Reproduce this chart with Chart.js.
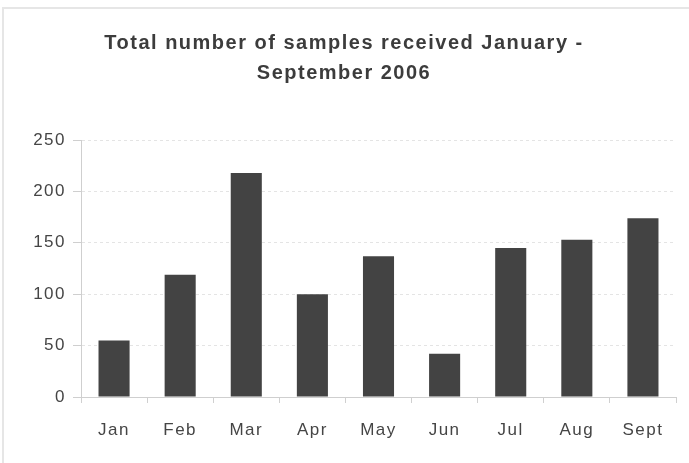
<!DOCTYPE html>
<html>
<head>
<meta charset="utf-8">
<script src="https://cdn.jsdelivr.net/npm/chart.js@4/dist/chart.umd.min.js"></script>
<style>
  html, body { margin: 0; padding: 0; background: #fff; overflow: hidden; }
  #wrap { position: relative; width: 689px; height: 463px; }
  #frame { position: absolute; left: 2px; top: 7px; width: 720px; height: 520px;
           border: 2px solid #e6e6e6; box-sizing: border-box; }
  canvas { position: absolute; left: 0; top: 0; }
</style>
</head>
<body>
<div id="wrap">
  <div id="frame"></div>
  <canvas id="c" width="689" height="463"></canvas>
</div>
<script>
const titleLines = ['Total number of samples received January -', 'September 2006'];
const months = ['Jan', 'Feb', 'Mar', 'Apr', 'May', 'Jun', 'Jul', 'Aug', 'Sept'];
const samples = [55, 119, 218, 100, 137, 42, 145, 153, 174];
const yTicks = [0, 50, 100, 150, 200, 250];

const spacing = {
  id: 'spacing',
  beforeUpdate(c) { c.ctx.letterSpacing = '1.5px'; },
  beforeDraw(c) { c.ctx.letterSpacing = '1.5px'; }
};

new Chart(document.getElementById('c'), {
  type: 'bar',
  data: {
    labels: months,
    datasets: [{
      data: samples,
      backgroundColor: '#434343',
      borderWidth: 0,
      barPercentage: 0.47,
      categoryPercentage: 1
    }]
  },
  options: {
    responsive: false,
    animation: false,
    layout: { padding: { left: 12, right: 13, top: 0, bottom: 0 } },
    plugins: {
      legend: { display: false },
      tooltip: { enabled: false },
      title: {
        display: true,
        text: titleLines,
        color: '#3c3c3c',
        font: { family: 'Liberation Sans, Arial, sans-serif', size: 20, weight: 'bold', lineHeight: 30 / 20 },
        padding: { top: 28, bottom: 52 }
      }
    },
    scales: {
      x: {
        grid: { display: true, drawOnChartArea: false, drawTicks: true, tickLength: 6, color: '#d0d0d0', offset: true },
        border: { display: true, color: '#cfcfcf', width: 1 },
        ticks: { color: '#454545', padding: 17, font: { family: 'Liberation Sans, Arial, sans-serif', size: 17 } },
        afterFit(s) { s.height = 66; }
      },
      y: {
        min: 0,
        max: 250,
        afterBuildTicks(s) { s.ticks = yTicks.map(v => ({ value: v })); },
        grid: { color: '#e4e4e4', drawTicks: true, tickLength: 8, tickColor: '#cfcfcf' },
        border: { display: true, color: '#cfcfcf', width: 1, dash: [3, 3] },
        ticks: { color: '#454545', padding: 7, font: { family: 'Liberation Sans, Arial, sans-serif', size: 17 } },
        afterFit(s) { s.width = 69; }
      }
    }
  },
  plugins: [spacing]
});
</script>
</body>
</html>
